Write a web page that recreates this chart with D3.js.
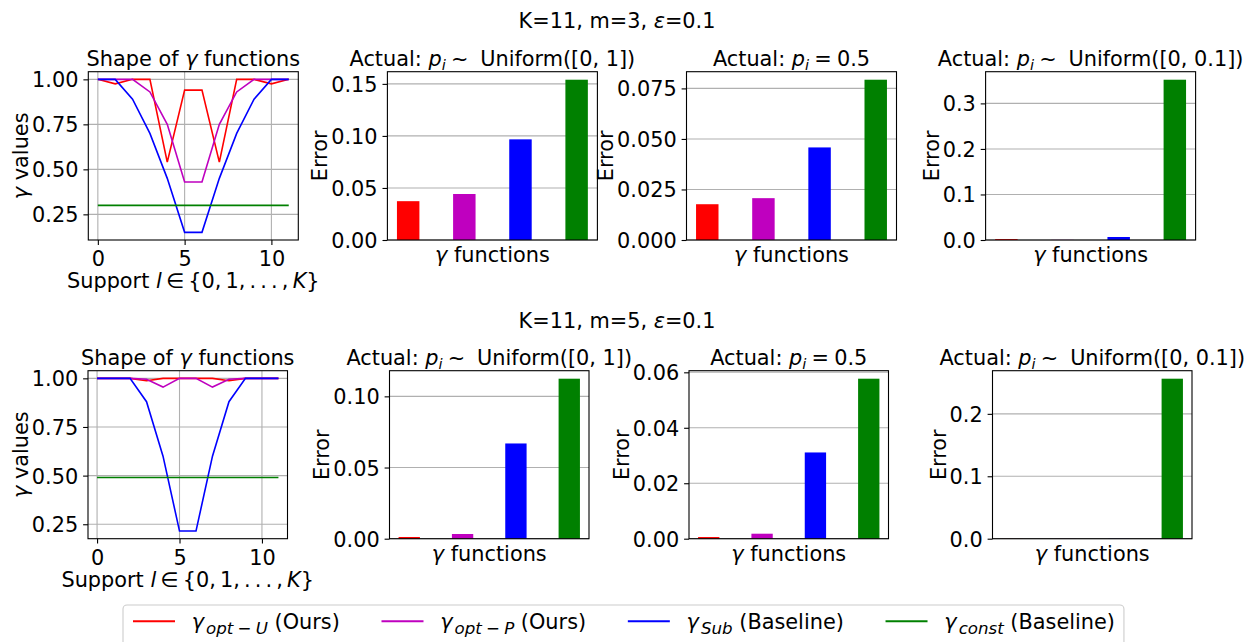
<!DOCTYPE html>
<html><head><meta charset="utf-8">
<script src="https://cdn.jsdelivr.net/npm/d3@7"></script>
<style>
body{margin:0;background:#fff;}
svg text{font-family:"DejaVu Sans",sans-serif;font-size:20.83px;fill:#000;white-space:pre;}
</style></head><body>
<svg id="chart" width="1247" height="642"></svg>
<script>
// ---------------- data ----------------
const support = [0,1,2,3,4,5,6,7,8,9,10,11];
const seriesKeys = ["optU","optP","sub","const"];
const seriesColors = ["#ff0000","#bf00bf","#0000ff","#008000"];

// row 1: K=11, m=3
const gammaOptU_m3  = [1.00,0.975,1.00,1.00,0.54,0.94,0.94,0.54,1.00,1.00,0.975,1.00];
const gammaOptP_m3  = [1.00,1.00,1.00,0.93,0.75,0.43,0.43,0.75,0.93,1.00,1.00,1.00];
const gammaSub_m3   = [1.00,1.00,0.89,0.70,0.45,0.15,0.15,0.45,0.70,0.89,1.00,1.00];
const gammaConst_m3 = [0.30,0.30,0.30,0.30,0.30,0.30,0.30,0.30,0.30,0.30,0.30,0.30];
const errUnif1_m3   = [0.0373,0.0442,0.0967,0.1540];
const errHalf_m3    = [0.0177,0.0207,0.0458,0.0793];
const errUnif01_m3  = [0.0020,0.0003,0.0066,0.3520];

// row 2: K=11, m=5
const gammaOptU_m5  = [1.00,1.00,1.00,0.988,1.00,1.00,1.00,1.00,0.988,1.00,1.00,1.00];
const gammaOptP_m5  = [1.00,1.00,1.00,0.995,0.955,1.00,1.00,0.955,0.995,1.00,1.00,1.00];
const gammaSub_m5   = [1.00,1.00,1.00,0.88,0.60,0.215,0.215,0.60,0.88,1.00,1.00,1.00];
const gammaConst_m5 = [0.49,0.49,0.49,0.49,0.49,0.49,0.49,0.49,0.49,0.49,0.49,0.49];
const errUnif1_m5   = [0.0012,0.0033,0.0669,0.1124];
const errHalf_m5    = [0.0006,0.0018,0.0311,0.0577];
const errUnif01_m5  = [0.0002,0.0002,0.0003,0.2563];

// tick labels
const gammaXTicks = [0,5,10];
const gammaYTicks = [0.25,0.50,0.75,1.00];
const ticksUnif1_m3  = [0,0.05,0.10,0.15];
const ticksHalf_m3   = [0,0.025,0.050,0.075];
const ticksUnif01_m3 = [0,0.1,0.2,0.3];
const ticksUnif1_m5  = [0,0.05,0.10];
const ticksHalf_m5   = [0,0.02,0.04,0.06];
const ticksUnif01_m5 = [0,0.1,0.2];

// ---------------- drawing ----------------
const FS = 20.83;
const svg = d3.select("#chart");
svg.append("rect").attr("width",1247).attr("height",642).attr("fill","#fff");

function rich(sel, parts, fs, subScale) {
  fs = fs || FS;
  subScale = subScale || 0.7;
  let shift = 0;
  parts.forEach(p => {
    const ts = sel.append("tspan").text(p.t);
    if (p.it) ts.style("font-style","italic");
    const target = p.sub ? fs*0.22 : 0;
    if (target !== shift) { ts.attr("dy", target - shift); shift = target; }
    if (p.sub) ts.style("font-size", (fs*subScale)+"px");
  });
  return sel;
}

const TICK = 4.9, PAD = 4.9;

function styleAxis(g) {
  g.attr("font-size", null).attr("font-family", null);
  g.select(".domain").remove();
  g.selectAll(".tick line").attr("stroke","#000").attr("stroke-width",1.1);
}

function yLabel(g, left, top, h, parts, axisG) {
  let maxW = 0;
  axisG.selectAll(".tick text").each(function(){ maxW = Math.max(maxW, this.getBBox().width); });
  const x = left - TICK - PAD - maxW - 4;
  rich(g.append("text").attr("text-anchor","middle")
    .attr("transform",`translate(${x},${top+h/2}) rotate(-90)`), parts);
}

function title(g, left, top, w, parts) {
  rich(g.append("text").attr("text-anchor","middle").attr("x", left+w/2).attr("y", top-6), parts);
}

function linePanel(left, top, w, h, seriesList) {
  const g = svg.append("g");
  const x = d3.scaleLinear().domain([-0.55, 11.55]).range([left, left+w]);
  const all = seriesList.flat();
  const ext = d3.extent(all), pad = (ext[1]-ext[0])*0.05;
  const y = d3.scaleLinear().domain([ext[0]-pad, ext[1]+pad]).range([top+h, top]);
  // grid
  g.append("g").selectAll("line").data(gammaXTicks).join("line")
    .attr("x1", d=>x(d)).attr("x2", d=>x(d)).attr("y1", top).attr("y2", top+h)
    .attr("stroke","#b0b0b0").attr("stroke-width",1.1);
  g.append("g").selectAll("line").data(gammaYTicks).join("line")
    .attr("y1", d=>y(d)).attr("y2", d=>y(d)).attr("x1", left).attr("x2", left+w)
    .attr("stroke","#b0b0b0").attr("stroke-width",1.1);
  // lines
  const line = d3.line().x((d,i)=>x(support[i])).y(d=>y(d));
  seriesList.forEach((s,i) => {
    g.append("path").datum(s).attr("d", line).attr("fill","none")
      .attr("stroke", seriesColors[i]).attr("stroke-width",1.6);
  });
  g.append("rect").attr("x",left).attr("y",top).attr("width",w).attr("height",h)
    .attr("fill","none").attr("stroke","#000").attr("stroke-width",1.1);
  const ax = g.append("g").attr("transform",`translate(0,${top+h})`)
    .call(d3.axisBottom(x).tickValues(gammaXTicks).tickFormat(d3.format("d")).tickSize(TICK).tickPadding(PAD))
    .call(styleAxis);
  ax.selectAll(".tick text").attr("dy","0.78em");
  const ay = g.append("g").attr("transform",`translate(${left},0)`)
    .call(d3.axisLeft(y).tickValues(gammaYTicks).tickFormat(d3.format(".2f")).tickSize(TICK).tickPadding(PAD))
    .call(styleAxis);
  ay.selectAll(".tick text").attr("dy","0.36em");
  yLabel(g, left, top, h, [{t:"γ",it:true},{t:" values"}], ay);
  rich(g.append("text").attr("text-anchor","middle").attr("x", left+w/2).attr("y", top+h+48),
    [{t:"Support "},{t:"l",it:true},{t:"\u2009∈\u2009{0,\u20091,\u2009.\u2009.\u2009.\u2009,\u2009"},{t:"K",it:true},{t:"}"}]);
  title(g, left, top, w, [{t:"Shape of "},{t:"γ",it:true},{t:" functions"}]);
}

function barPanel(left, top, w, h, vals, ticks, fmt, titleParts) {
  const g = svg.append("g");
  const x = d3.scaleLinear().domain([-0.37, 3.37]).range([left, left+w]);
  const y = d3.scaleLinear().domain([0, d3.max(vals)*1.05]).range([top+h, top]);
  g.append("g").selectAll("line").data(ticks).join("line")
    .attr("y1", d=>y(d)).attr("y2", d=>y(d)).attr("x1", left).attr("x2", left+w)
    .attr("stroke","#b0b0b0").attr("stroke-width",1.1);
  g.append("g").selectAll("rect").data(vals).join("rect")
    .attr("x",(d,i)=>x(i-0.2)).attr("width",(d,i)=>x(i+0.2)-x(i-0.2))
    .attr("y",d=>y(d)).attr("height",d=>y(0)-y(d))
    .attr("fill",(d,i)=>seriesColors[i]);
  g.append("rect").attr("x",left).attr("y",top).attr("width",w).attr("height",h)
    .attr("fill","none").attr("stroke","#000").attr("stroke-width",1.1);
  const ay = g.append("g").attr("transform",`translate(${left},0)`)
    .call(d3.axisLeft(y).tickValues(ticks).tickFormat(d3.format(fmt)).tickSize(TICK).tickPadding(PAD))
    .call(styleAxis);
  ay.selectAll(".tick text").attr("dy","0.36em");
  yLabel(g, left, top, h, [{t:"Error"}], ay);
  rich(g.append("text").attr("text-anchor","middle").attr("x", left+w/2).attr("y", top+h+22),
    [{t:"γ",it:true},{t:" functions"}]);
  title(g, left, top, w, titleParts);
}

const titleUnif1  = [{t:"Actual: "},{t:"p",it:true},{t:"i",it:true,sub:true},{t:"\u2005∼\u2005 Uniform([0, 1])"}];
const titleHalf   = [{t:"Actual: "},{t:"p",it:true},{t:"i",it:true,sub:true},{t:"\u2005=\u20050.5"}];
const titleUnif01 = [{t:"Actual: "},{t:"p",it:true},{t:"i",it:true,sub:true},{t:"\u2005∼\u2005 Uniform([0, 0.1])"}];

// row 1
const r1 = {top:71.7, h:168.3, w:210, lefts:[88.3,387.4,686.5,985.6]};
rich(svg.append("text").attr("text-anchor","middle").attr("x",617).attr("y",27.5),
  [{t:"K=11, m=3, "},{t:"ε",it:true},{t:"=0.1"}]);
linePanel(r1.lefts[0], r1.top, r1.w, r1.h, [gammaOptU_m3,gammaOptP_m3,gammaSub_m3,gammaConst_m3]);
barPanel(r1.lefts[1], r1.top, r1.w, r1.h, errUnif1_m3, ticksUnif1_m3, ".2f", titleUnif1);
barPanel(r1.lefts[2], r1.top, r1.w, r1.h, errHalf_m3, ticksHalf_m3, ".3f", titleHalf);
barPanel(r1.lefts[3], r1.top, r1.w, r1.h, errUnif01_m3, ticksUnif01_m3, ".1f", titleUnif01);

// row 2
const r2 = {top:370.7, h:168, w:199.5, lefts:[88,389.5,689,992.5]};
rich(svg.append("text").attr("text-anchor","middle").attr("x",617).attr("y",327.5),
  [{t:"K=11, m=5, "},{t:"ε",it:true},{t:"=0.1"}]);
linePanel(r2.lefts[0], r2.top, r2.w, r2.h, [gammaOptU_m5,gammaOptP_m5,gammaSub_m5,gammaConst_m5]);
barPanel(r2.lefts[1], r2.top, r2.w, r2.h, errUnif1_m5, ticksUnif1_m5, ".2f", titleUnif1);
barPanel(r2.lefts[2], r2.top, r2.w, r2.h, errHalf_m5, ticksHalf_m5, ".2f", titleHalf);
barPanel(r2.lefts[3], r2.top, r2.w, r2.h, errUnif01_m5, ticksUnif01_m5, ".1f", titleUnif01);

// legend
const legendLabels = [
  [{t:"γ\u200a",it:true},{t:"opt",it:true,sub:true},{t:"\u2005−\u2005",sub:true},{t:"U",it:true,sub:true},{t:" (Ours)"}],
  [{t:"γ\u200a",it:true},{t:"opt",it:true,sub:true},{t:"\u2005−\u2005",sub:true},{t:"P",it:true,sub:true},{t:" (Ours)"}],
  [{t:"γ\u200a",it:true},{t:"Sub",it:true,sub:true},{t:" (Baseline)"}],
  [{t:"γ\u200a",it:true},{t:"const",it:true,sub:true},{t:" (Baseline)"}]
];
const lg = svg.append("g");
const frame = lg.append("rect");
let cx = 133;
const lineY = 621.3, textY = 629;
legendLabels.forEach((parts,i) => {
  lg.append("line").attr("x1",cx).attr("x2",cx+42).attr("y1",lineY).attr("y2",lineY)
    .attr("stroke",seriesColors[i]).attr("stroke-width",2.1);
  const t = rich(lg.append("text").attr("x",cx+42+16.7).attr("y",textY), parts, FS, 0.8);
  const tw = t.node().getBBox().width;
  cx = cx + 42 + 16.7 + tw + 41.7;
});
const rightEdge = cx - 41.7 + 9;
frame.attr("x",123).attr("y",605).attr("width",rightEdge-123).attr("height",60)
  .attr("rx",4).attr("fill","#fff").attr("stroke","#cccccc").attr("stroke-width",1.1);
</script>
</body></html>
